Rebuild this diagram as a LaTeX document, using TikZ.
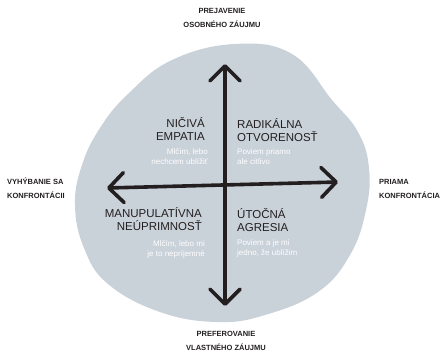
\documentclass[tikz,border=0pt]{standalone}
\usepackage{fontspec}
\setmainfont{Liberation Sans}
\usetikzlibrary{arrows.meta}
\definecolor{blobgray}{RGB}{201,209,217}
\definecolor{ink}{RGB}{35,31,32}
\newcommand{\caps}[1]{\MakeUppercase{#1}}
\begin{document}
\begin{tikzpicture}[x=1pt,y=-1pt,
  axis/.style={ink,line width=3.6pt,line cap=round,{Straight Barb[length=15pt,width=30pt,round]}-{Straight Barb[length=15pt,width=30pt,round]}},
  heading/.style={ink,inner sep=0pt,font=\fontsize{11.5}{12.5}\selectfont},
  note/.style={white,inner sep=0pt,font=\fontsize{8}{9.5}\selectfont},
  pole/.style={ink,inner sep=0pt,align=center,font=\fontsize{7.5}{14}\selectfont\bfseries}]
\useasboundingbox (0,0) rectangle (444,354);
% blob
\fill[blobgray] plot[smooth cycle,tension=.7] coordinates{(235,44) (292,54) (332,100) (358,132) (369,168) (366,210) (350,255) (318,292) (265,315) (217,322) (160,312) (108,284) (84,248) (75,205) (82,165) (100,128) (128,94) (172,60)};
% axes
\coordinate (n) at (225,64);
\coordinate (s) at (225,306);
\coordinate (w) at (107,188);
\coordinate (e) at (338,182);
\draw[axis] (w) -- (e);
\draw[axis] (s) -- (n);
% poles (base = last line)
\node[pole,anchor=base] (top) at (222,27) {\caps{Prejavenie}\\\caps{osobného záujmu}};
\node[pole,anchor=base] (bottom) at (226,350) {\caps{Preferovanie}\\\caps{vlastného záujmu}};
\node[pole,anchor=base west,align=left] (left) at (7,198) {\caps{Vyhýbanie sa}\\\caps{konfrontácii}};
\node[pole,anchor=base west,align=left] (right) at (379,198) {\caps{Priama}\\\caps{konfrontácia}};
% quadrants
\node[heading,anchor=base east,align=right] (nw) at (205,140) {\caps{Ničivá}\\\caps{empatia}};
\node[note,anchor=base east,align=right] (nwnote) at (208,164) {Mlčím, lebo\\nechcem ublížiť};
\node[heading,anchor=base west,align=left] (ne) at (237,141) {\caps{Radikálna}\\\caps{otvorenosť}};
\node[note,anchor=base west,align=left] (nenote) at (237,164) {Poviem priamo\\ale citlivo};
\node[heading,anchor=base east,align=right] (sw) at (202,230) {\caps{Manupulatívna}\\\caps{neúprimnosť}};
\node[note,anchor=base east,align=right] (swnote) at (205,256) {Mlčím, lebo mi\\je to nepríjemné};
\node[heading,anchor=base west,align=left] (se) at (237,231) {\caps{Útočná}\\\caps{agresia}};
\node[note,anchor=base west,align=left] (senote) at (237,255) {Poviem a je mi\\jedno, že ublížim};
\end{tikzpicture}
\end{document}
